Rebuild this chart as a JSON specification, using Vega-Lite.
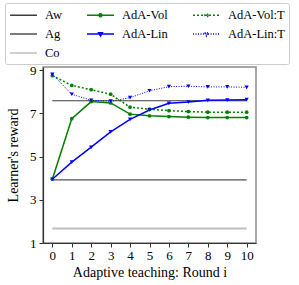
{
  "$schema": "https://vega.github.io/schema/vega-lite/v6.json",
  "autosize": {"type": "none"},
  "width": 213,
  "height": 176,
  "padding": {"left": 43, "top": 67, "right": 43, "bottom": 42},
  "background": "white",
  "config": {
    "font": "Liberation Serif",
    "view": {"stroke": "#8a8a8a", "strokeWidth": 1.5},
    "legend": {"labelFont": "Liberation Serif", "labelFontSize": 12.5, "labelColor": "black"},
    "axis": {"grid": false, "domainColor": "#333333", "domainWidth": 1.2, "tickColor": "#333333", "tickSize": 4, "labelFont": "Liberation Serif", "labelFontSize": 13, "labelColor": "black", "titleFont": "Liberation Serif", "titleFontSize": 14, "titleFontWeight": "normal", "titleColor": "black"}
  },
  "data": {
    "values": [
      {"series": "Aw", "x": 0, "y": 7.58}, {"series": "Aw", "x": 10, "y": 7.58},
      {"series": "AdA-Vol", "x": 0, "y": 3.95}, {"series": "AdA-Vol", "x": 1, "y": 6.75}, {"series": "AdA-Vol", "x": 2, "y": 7.54}, {"series": "AdA-Vol", "x": 3, "y": 7.48}, {"series": "AdA-Vol", "x": 4, "y": 6.96}, {"series": "AdA-Vol", "x": 5, "y": 6.88}, {"series": "AdA-Vol", "x": 6, "y": 6.85}, {"series": "AdA-Vol", "x": 7, "y": 6.82}, {"series": "AdA-Vol", "x": 8, "y": 6.8}, {"series": "AdA-Vol", "x": 9, "y": 6.8}, {"series": "AdA-Vol", "x": 10, "y": 6.8},
      {"series": "AdA-Vol:T", "x": 0, "y": 8.74}, {"series": "AdA-Vol:T", "x": 1, "y": 8.29}, {"series": "AdA-Vol:T", "x": 2, "y": 8.09}, {"series": "AdA-Vol:T", "x": 3, "y": 7.88}, {"series": "AdA-Vol:T", "x": 4, "y": 7.28}, {"series": "AdA-Vol:T", "x": 5, "y": 7.19}, {"series": "AdA-Vol:T", "x": 6, "y": 7.12}, {"series": "AdA-Vol:T", "x": 7, "y": 7.08}, {"series": "AdA-Vol:T", "x": 8, "y": 7.05}, {"series": "AdA-Vol:T", "x": 9, "y": 7.05}, {"series": "AdA-Vol:T", "x": 10, "y": 7.05},
      {"series": "Ag", "x": 0, "y": 3.92}, {"series": "Ag", "x": 10, "y": 3.92},
      {"series": "AdA-Lin", "x": 0, "y": 3.95}, {"series": "AdA-Lin", "x": 1, "y": 4.74}, {"series": "AdA-Lin", "x": 2, "y": 5.43}, {"series": "AdA-Lin", "x": 3, "y": 6.14}, {"series": "AdA-Lin", "x": 4, "y": 6.72}, {"series": "AdA-Lin", "x": 5, "y": 7.15}, {"series": "AdA-Lin", "x": 6, "y": 7.46}, {"series": "AdA-Lin", "x": 7, "y": 7.52}, {"series": "AdA-Lin", "x": 8, "y": 7.6}, {"series": "AdA-Lin", "x": 9, "y": 7.61}, {"series": "AdA-Lin", "x": 10, "y": 7.63},
      {"series": "AdA-Lin:T", "x": 0, "y": 8.8}, {"series": "AdA-Lin:T", "x": 1, "y": 7.88}, {"series": "AdA-Lin:T", "x": 2, "y": 7.6}, {"series": "AdA-Lin:T", "x": 3, "y": 7.56}, {"series": "AdA-Lin:T", "x": 4, "y": 7.72}, {"series": "AdA-Lin:T", "x": 5, "y": 8.04}, {"series": "AdA-Lin:T", "x": 6, "y": 8.23}, {"series": "AdA-Lin:T", "x": 7, "y": 8.25}, {"series": "AdA-Lin:T", "x": 8, "y": 8.22}, {"series": "AdA-Lin:T", "x": 9, "y": 8.22}, {"series": "AdA-Lin:T", "x": 10, "y": 8.2},
      {"series": "Co", "x": 0, "y": 1.67}, {"series": "Co", "x": 10, "y": 1.67}
    ]
  },
  "encoding": {
    "x": {"field": "x", "type": "quantitative", "scale": {"domain": [-0.48, 10.48], "nice": false, "zero": false}, "axis": {"values": [0,1,2,3,4,5,6,7,8,9,10], "title": "Adaptive teaching: Round i", "labelPadding": 2, "titlePadding": 3}},
    "y": {"field": "y", "type": "quantitative", "scale": {"domain": [1, 9.14], "nice": false, "zero": false}, "axis": {"values": [1,3,5,7,9], "title": "Learner's reward", "labelPadding": 3, "titlePadding": 9}}
  },
  "layer": [
    {
      "transform": [{"filter": "datum.x === 0"}],
      "mark": {"type": "point", "opacity": 0, "size": 196},
      "encoding": {
        "fill": {"field": "series", "type": "nominal",
          "scale": {"domain": ["Aw", "AdA-Vol", "AdA-Vol:T", "Ag", "AdA-Lin", "AdA-Lin:T", "Co"], "range": ["transparent", "#008000", "#008000", "transparent", "#0000ff", "#0000ff", "transparent"]},
          "legend": {
            "title": null, "orient": "none", "legendX": -38, "legendY": -64, "columns": 3, "direction": "horizontal",
            "padding": 4, "strokeColor": "#cccccc", "fillColor": "white", "cornerRadius": 2,
            "labelFont": "Liberation Serif", "labelFontSize": 12.5, "labelColor": "black", "labelOffset": 20,
            "columnPadding": 22, "rowPadding": 4, "symbolSize": 196, "symbolOpacity": 1
          }
        },
        "stroke": {"field": "series", "type": "nominal",
          "scale": {"domain": ["Aw", "AdA-Vol", "AdA-Vol:T", "Ag", "AdA-Lin", "AdA-Lin:T", "Co"], "range": ["#3c3c3c", "#008000", "#008000", "#505050", "#0000ff", "#0000ff", "#bfbfbf"]}},
        "shape": {"field": "series", "type": "nominal",
          "scale": {"domain": ["Aw", "AdA-Vol", "AdA-Vol:T", "Ag", "AdA-Lin", "AdA-Lin:T", "Co"], "range": [
            "M-1,0L2.857,0",
            "M-1,0L2.857,0M1.16,0A0.23,0.23,0,1,1,0.7,0A0.23,0.23,0,1,1,1.16,0Z",
            "M-1,0L2.857,0M1.16,0A0.23,0.23,0,1,1,0.7,0A0.23,0.23,0,1,1,1.16,0Z",
            "M-1,0L2.857,0",
            "M-1,0L2.857,0M0.66,-0.17L1.2,-0.17L0.93,0.3Z",
            "M-1,0L2.857,0M0.66,-0.17L1.2,-0.17L0.93,0.3Z",
            "M-1,0L2.857,0"
          ]}},
        "strokeDash": {"field": "series", "type": "nominal",
          "scale": {"domain": ["Aw", "AdA-Vol", "AdA-Vol:T", "Ag", "AdA-Lin", "AdA-Lin:T", "Co"], "range": [[1,0], [1,0], [2,2], [1,0], [1,0], [1,1.5], [1,0]]}},
        "strokeWidth": {"field": "series", "type": "nominal",
          "scale": {"domain": ["Aw", "AdA-Vol", "AdA-Vol:T", "Ag", "AdA-Lin", "AdA-Lin:T", "Co"], "range": [1.3, 1.5, 1.5, 1.2, 1.5, 1, 1.6]}}
      }
    },
    {
      "transform": [{"filter": "datum.series === 'Aw' || datum.series === 'Ag'"}],
      "mark": {"type": "line", "strokeWidth": 1.2},
      "encoding": {
        "color": {"field": "series", "type": "nominal",
          "scale": {"domain": ["Aw", "AdA-Vol", "AdA-Vol:T", "Ag", "AdA-Lin", "AdA-Lin:T", "Co"], "range": ["#3c3c3c", "#008000", "#008000", "#505050", "#0000ff", "#0000ff", "#bfbfbf"]},
          "legend": null}
      }
    },
    {
      "transform": [{"filter": "datum.series === 'Co'"}],
      "mark": {"type": "line", "strokeWidth": 1.8},
      "encoding": {"color": {"field": "series", "type": "nominal", "legend": null}}
    },
    {
      "transform": [{"filter": "datum.series === 'AdA-Vol' || datum.series === 'AdA-Lin'"}],
      "mark": {"type": "line", "strokeWidth": 1.5},
      "encoding": {"color": {"field": "series", "type": "nominal", "legend": null}}
    },
    {
      "transform": [{"filter": "datum.series === 'AdA-Vol:T'"}],
      "mark": {"type": "line", "strokeWidth": 1.5, "strokeDash": [2, 2]},
      "encoding": {"color": {"field": "series", "type": "nominal", "legend": null}}
    },
    {
      "transform": [{"filter": "datum.series === 'AdA-Lin:T'"}],
      "mark": {"type": "line", "strokeWidth": 1, "strokeDash": [1, 1.5]},
      "encoding": {"color": {"field": "series", "type": "nominal", "legend": null}}
    },
    {
      "transform": [{"filter": "datum.series === 'AdA-Vol' || datum.series === 'AdA-Vol:T'"}],
      "mark": {"type": "point", "shape": "circle", "filled": true, "size": 14, "opacity": 1},
      "encoding": {"color": {"field": "series", "type": "nominal", "legend": null}}
    },
    {
      "transform": [{"filter": "datum.series === 'AdA-Lin' || datum.series === 'AdA-Lin:T'"}],
      "mark": {"type": "point", "shape": "triangle-down", "filled": true, "size": 18, "opacity": 1},
      "encoding": {"color": {"field": "series", "type": "nominal", "legend": null}}
    }
  ]
}
